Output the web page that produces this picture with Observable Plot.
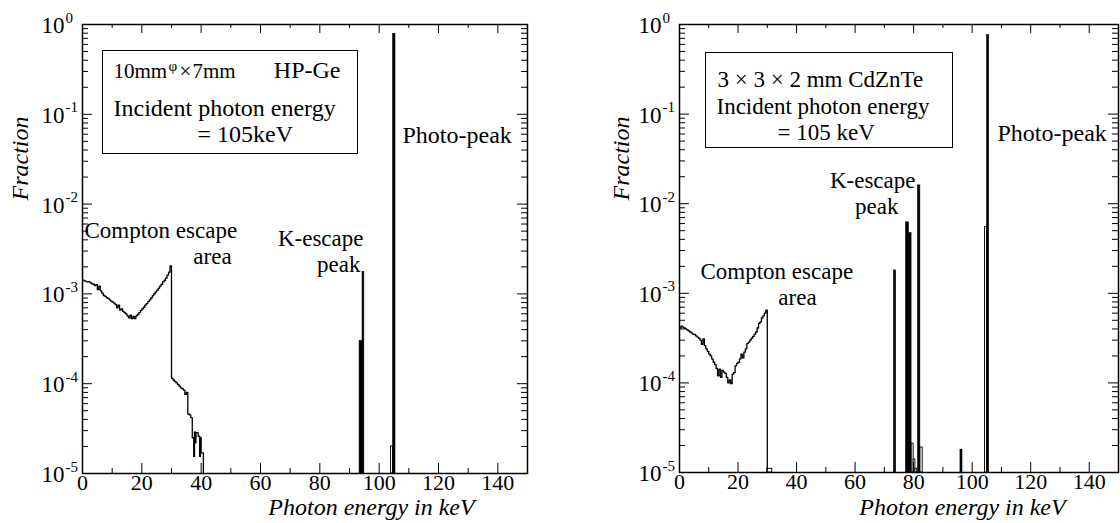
<!DOCTYPE html>
<html>
<head>
<meta charset="utf-8">
<script src="https://cdn.jsdelivr.net/npm/d3@7"></script>
<script src="https://cdn.jsdelivr.net/npm/@observablehq/plot@0.6"></script>
<style>
  body { margin: 0; background: #fff; }
  #fig { display: flex; width: 1120px; height: 523px; overflow: hidden; }
  #fig svg { display: block; flex: none; }
</style>
</head>
<body>
<div id="fig"></div>
<script>
// ---------- axes ----------
const energyTicks = [0, 20, 40, 60, 80, 100, 120, 140];
const energyMinorTicks = [10, 30, 50, 70, 90, 110, 130];
const fractionExponents = [0, -1, -2, -3, -4, -5];
const fractionDomain = [1e-5, 1];

// ---------- 10mm φ × 7mm HP-Ge : Compton escape continuum (step histogram, bin start in keV) ----------
const geContinuumEnergy = [
  0, 0.5, 1, 1.5, 2, 2.5, 3, 3.5, 4, 4.5,
  5, 5.5, 6, 6.5, 7, 7.5, 8, 8.5, 9, 9.5,
  10, 10.5, 11, 11.5, 12, 12.5, 13, 13.5, 14, 14.5,
  15, 15.5, 16, 16.5, 17, 17.5, 18, 18.5, 19, 19.5,
  20, 20.5, 21, 21.5, 22, 22.5, 23, 23.5, 24, 24.5,
  25, 25.5, 26, 26.5, 27, 27.5, 28, 28.5, 29, 29.5,
  30, 30.5, 31, 31.5, 32, 32.5, 33, 33.5, 34, 34.5,
  35, 35.5, 36, 36.5, 37, 37.5, 37.75, 38, 38.25, 39,
  39.5, 39.75, 40, 40.75
];
const geContinuumFraction = [
  1.42e-3, 1.40e-3, 1.38e-3, 1.36e-3, 1.37e-3, 1.33e-3, 1.30e-3, 1.28e-3, 1.24e-3, 1.27e-3,
  1.12e-3, 1.22e-3, 1.08e-3, 1.02e-3, 9.6e-4, 9.4e-4, 9.1e-4, 8.9e-4, 8.6e-4, 8.3e-4,
  8.1e-4, 7.9e-4, 7.6e-4, 7.0e-4, 7.5e-4, 6.6e-4, 6.8e-4, 6.4e-4, 6.2e-4, 6.0e-4,
  5.7e-4, 5.4e-4, 5.8e-4, 5.3e-4, 5.6e-4, 5.3e-4, 5.7e-4, 5.9e-4, 6.2e-4, 6.5e-4,
  6.8e-4, 7.1e-4, 7.5e-4, 7.8e-4, 8.2e-4, 8.6e-4, 9.0e-4, 9.5e-4, 1.0e-3, 1.05e-3,
  1.10e-3, 1.16e-3, 1.22e-3, 1.28e-3, 1.36e-3, 1.42e-3, 1.50e-3, 1.62e-3, 1.75e-3, 2.05e-3,
  1.15e-4, 1.10e-4, 1.06e-4, 1.02e-4, 9.8e-5, 9.4e-5, 9.0e-5, 8.8e-5, 8.5e-5, 7.6e-5,
  8.0e-5, 4.6e-5, 4.5e-5, 4.2e-5, 2.5e-5, 1.55e-5, 2.9e-5, 2.2e-5, 2.85e-5, 2.6e-5,
  1.55e-5, 2.5e-5, 1.7e-5, 1e-5
];
// HP-Ge peaks: bin edges (keV), fraction, solid (black) or open bin
const geBarStart    = [93.4, 94.4, 104.0, 104.7];
const geBarEnd      = [94.4, 95.0, 104.7, 105.5];
const geBarFraction = [3.0e-4, 1.75e-3, 2.0e-5, 0.78];
const geBarSolid    = [true, true, false, true];

// ---------- 3 × 3 × 2 mm CdZnTe : Compton escape continuum ----------
const czContinuumEnergy = [
  0, 0.5, 1, 1.5, 2, 2.5, 3, 3.5, 4, 4.5,
  5, 5.5, 6, 6.5, 7, 7.5, 8, 8.5, 9, 9.5,
  10, 10.5, 11, 11.5, 12, 12.5, 13, 13.5, 14, 14.5,
  15, 15.5, 16, 16.5, 17, 17.5, 18, 18.5, 19, 19.5,
  20, 20.5, 21, 21.5, 22, 22.5, 23, 23.5, 24, 24.5,
  25, 25.5, 26, 26.5, 27, 27.5, 28, 28.5, 29, 29.5,
  30
];
const czContinuumFraction = [
  4.1e-4, 4.3e-4, 4.2e-4, 4.1e-4, 4.0e-4, 3.9e-4, 3.8e-4, 3.7e-4, 3.6e-4, 3.5e-4,
  3.45e-4, 3.35e-4, 3.25e-4, 3.15e-4, 3.0e-4, 2.7e-4, 3.1e-4, 2.6e-4, 2.4e-4, 2.25e-4,
  2.1e-4, 2.0e-4, 1.85e-4, 1.7e-4, 1.6e-4, 1.45e-4, 1.2e-4, 1.42e-4, 1.15e-4, 1.38e-4,
  1.32e-4, 1.28e-4, 1.15e-4, 1.0e-4, 1.08e-4, 0.98e-4, 1.25e-4, 1.3e-4, 1.55e-4, 1.65e-4,
  1.7e-4, 1.85e-4, 2.1e-4, 1.9e-4, 2.2e-4, 2.4e-4, 2.75e-4, 2.85e-4, 3.0e-4, 3.15e-4,
  3.3e-4, 3.5e-4, 3.7e-4, 4.1e-4, 4.6e-4, 4.8e-4, 5.3e-4, 5.6e-4, 6.0e-4, 6.5e-4,
  1e-5
];
// CdZnTe peaks (Cd / Te K-escape lines, photo-peak)
const czBarStart    = [30.0, 73.3, 77.4, 78.4, 79.3, 80.0, 80.6, 81.5, 82.3, 96.0, 104.4, 105.1];
const czBarEnd      = [31.7, 74.0, 78.4, 79.3, 80.0, 80.6, 81.2, 82.3, 83.1, 96.7, 105.1, 105.8];
const czBarFraction = [1.1e-5, 1.8e-3, 6.2e-3, 4.7e-3, 2.1e-5, 1.4e-5, 1.1e-5, 1.6e-2, 1.9e-5, 1.8e-5, 5.5e-3, 0.76];
const czBarSolid    = [false, true, true, true, false, false, false, true, false, true, false, true];

// ---------- drawing ----------
const SERIF = "'Liberation Serif', 'Times New Roman', Times, serif";
const yTicks = d3.scaleLog().domain(fractionDomain).ticks();
const yMajor = fractionExponents.map(e => 10 ** e);
const yMinor = yTicks.filter(v => !yMajor.some(m => Math.abs(m - v) / m < 1e-9));

function rowsOf(energy, fraction) {
  return energy.map((e, i) => ({e, f: fraction[i]}));
}
function barsOf(start, end, fraction, solid) {
  return start.map((s, i) => ({lo: s, hi: end[i], f: fraction[i], solid: solid[i]}));
}

// text placed relative to the top-left corner of the plotting frame
function note(text, dx, dy, o = {}) {
  return Plot.text([text], {
    frameAnchor: "top-left", dx, dy,
    lineAnchor: "bottom", textAnchor: o.anchor ?? "start",
    fontSize: o.size ?? 23, fontStyle: o.italic ? "italic" : "normal",
    fontFamily: SERIF, fill: "#000"
  });
}

function panel({continuum, bars, width, marginLeft, marginRight, marginBottom, box, notes, yLabelDx, xLabelDx, xLabelDy}) {
  const height = 523, marginTop = 24;
  const H = height - marginTop - marginBottom;
  const W = width - marginLeft - marginRight;
  return Plot.plot({
    width, height, marginLeft, marginRight, marginTop, marginBottom,
    style: {fontFamily: SERIF, background: "#fff", color: "#000", overflow: "visible"},
    x: {domain: [0, 150], axis: null},
    y: {type: "log", domain: fractionDomain, axis: null},
    marks: [
      // spectrum
      Plot.line(continuum, {x: "e", y: "f", curve: "step-after", stroke: "#000", strokeWidth: 1.3}),
      Plot.rectY(bars, {filter: d => !d.solid, x1: "lo", x2: "hi", y1: fractionDomain[0], y2: "f",
        fill: "#fff", stroke: "#000", strokeWidth: 0.9}),
      Plot.rectY(bars, {filter: d => d.solid, x1: "lo", x2: "hi", y1: fractionDomain[0], y2: "f",
        fill: "#000", stroke: "#000", strokeWidth: 0.6}),
      // inward ticks on all four sides
      Plot.ruleX(energyTicks, {insetTop: H - 10, stroke: "#000"}),
      Plot.ruleX(energyTicks, {insetBottom: H - 9, stroke: "#000"}),
      Plot.ruleX(energyMinorTicks, {insetTop: H - 5, stroke: "#000"}),
      Plot.ruleX(energyMinorTicks, {insetBottom: H - 4, stroke: "#000"}),
      Plot.ruleY(yMajor, {insetRight: W - 10, stroke: "#000"}),
      Plot.ruleY(yMajor, {insetLeft: W - 10, stroke: "#000"}),
      Plot.ruleY(yMinor, {insetRight: W - 6, stroke: "#000"}),
      Plot.ruleY(yMinor, {insetLeft: W - 6, stroke: "#000"}),
      Plot.frame({stroke: "#000", strokeWidth: 1.5}),
      // tick labels
      Plot.text(energyTicks, {x: d => d, frameAnchor: "bottom", lineAnchor: "bottom", dy: 16,
        text: d => String(d), fontSize: 22, fontFamily: SERIF, fill: "#000"}),
      Plot.text(yMajor, {y: d => d, frameAnchor: "left", textAnchor: "end", lineAnchor: "bottom",
        dx: -18, dy: 8.5, text: () => "10", fontSize: 23, fontFamily: SERIF, fill: "#000"}),
      Plot.text(fractionExponents, {y: e => 10 ** e, frameAnchor: "left", textAnchor: "start", lineAnchor: "bottom",
        dx: -17, dy: -2, text: e => String(e), fontSize: 15, fontFamily: SERIF, fill: "#000"}),
      // axis titles
      Plot.text(["Fraction"], {frameAnchor: "top-left", dx: yLabelDx, dy: 134, rotate: -90,
        textAnchor: "middle", lineAnchor: "middle", fontSize: 24, fontStyle: "italic", fontFamily: SERIF, fill: "#000"}),
      Plot.text(["Photon energy in keV"], {frameAnchor: "top-left", dx: xLabelDx, dy: xLabelDy,
        textAnchor: "middle", lineAnchor: "bottom", fontSize: 24, fontStyle: "italic", fontFamily: SERIF, fill: "#000"}),
      // description box
      Plot.frame({...box, stroke: "#000", strokeWidth: 1}),
      ...notes
    ]
  });
}

const fig = document.getElementById("fig");

fig.append(panel({
  continuum: rowsOf(geContinuumEnergy, geContinuumFraction),
  bars: barsOf(geBarStart, geBarEnd, geBarFraction, geBarSolid),
  width: 560, marginLeft: 82, marginRight: 33, marginBottom: 50,
  box: {insetLeft: 20, insetTop: 26, insetRight: 170, insetBottom: 320},
  yLabelDx: -62, xLabelDx: 289, xLabelDy: 490,
  notes: [
    note("10mm", 31, 53, {size: 21}),
    note("\u03c6", 86, 46, {size: 15}),
    note("\u00d7", 97, 53, {size: 21}),
    note("7mm", 110, 53, {size: 21}),
    note("HP-Ge", 258, 53, {size: 24, anchor: "end"}),
    note("Incident photon energy", 31, 91, {size: 24}),
    note("= 105keV", 115, 117, {size: 24}),
    note("Photo-peak", 320, 118, {size: 24}),
    note("K-escape", 281, 221, {anchor: "end"}),
    note("peak", 278, 247, {anchor: "end"}),
    note("Compton escape", 2, 213),
    note("area", 130, 239, {anchor: "middle"})
  ]
}));

fig.append(panel({
  continuum: rowsOf(czContinuumEnergy, czContinuumFraction),
  bars: barsOf(czBarStart, czBarEnd, czBarFraction, czBarSolid),
  width: 560, marginLeft: 119, marginRight: 2, marginBottom: 51,
  box: {insetLeft: 26, insetTop: 28, insetRight: 166, insetBottom: 325},
  yLabelDx: -58, xLabelDx: 283, xLabelDy: 490,
  notes: [
    note("3 \u00d7 3 \u00d7 2 mm CdZnTe", 38, 62),
    note("Incident photon energy", 37, 89),
    note("= 105 keV", 98, 115),
    note("Photo-peak", 318, 116, {size: 24}),
    note("K-escape", 236, 163, {anchor: "end"}),
    note("peak", 219, 189, {anchor: "end"}),
    note("Compton escape", 21, 254),
    note("area", 118, 280, {anchor: "middle"})
  ]
}));
</script>
</body>
</html>
